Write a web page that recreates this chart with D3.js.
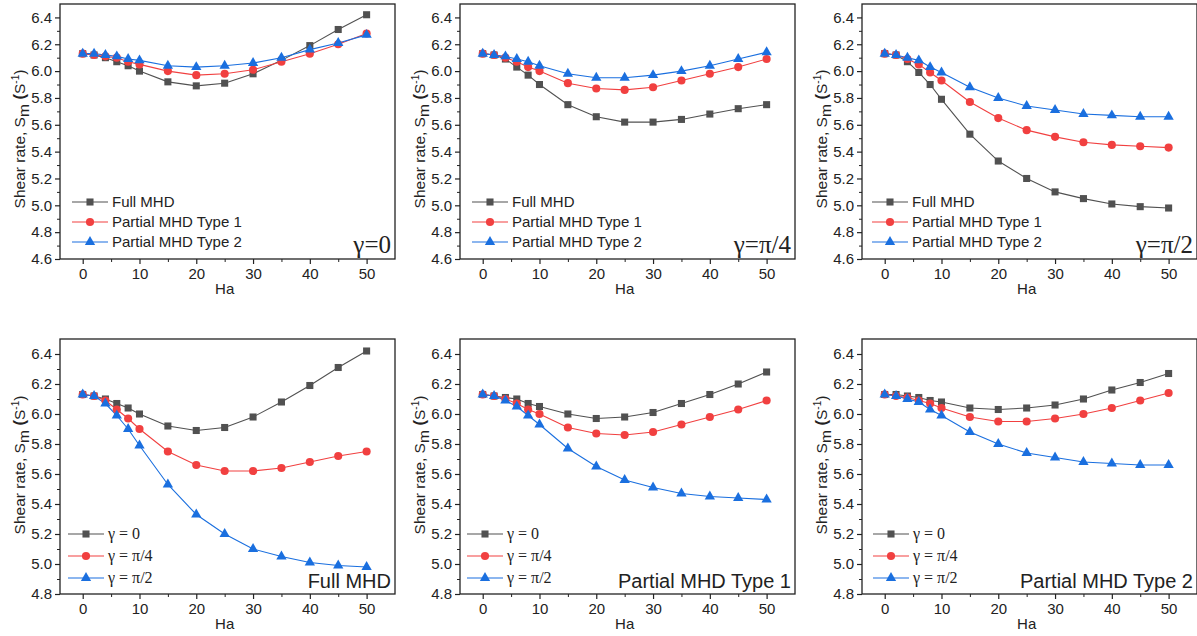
<!DOCTYPE html>
<html>
<head>
<meta charset="utf-8">
<script src="https://cdn.jsdelivr.net/npm/d3@7/dist/d3.min.js"></script>
<style>
  html, body { margin: 0; padding: 0; background: #fff; }
  svg { display: block; }
</style>
</head>
<body>
<svg id="chart" width="1197" height="636"></svg>
<script>
// Hartmann number values shared by every curve
const ha = [0, 2, 4, 6, 8, 10, 15, 20, 25, 30, 35, 40, 45, 50];

// Shear rate S_m for each model and inclination angle γ
const fullG0  = [6.13, 6.12, 6.10, 6.07, 6.04, 6.00, 5.92, 5.89, 5.91, 5.98, 6.08, 6.19, 6.31, 6.42];
const fullG4  = [6.13, 6.12, 6.09, 6.03, 5.97, 5.90, 5.75, 5.66, 5.62, 5.62, 5.64, 5.68, 5.72, 5.75];
const fullG2  = [6.13, 6.12, 6.07, 5.99, 5.90, 5.79, 5.53, 5.33, 5.20, 5.10, 5.05, 5.01, 4.99, 4.98];
const p1G0    = [6.13, 6.12, 6.11, 6.10, 6.07, 6.05, 6.00, 5.97, 5.98, 6.01, 6.07, 6.13, 6.20, 6.28];
const p1G4    = [6.13, 6.12, 6.10, 6.07, 6.03, 6.00, 5.91, 5.87, 5.86, 5.88, 5.93, 5.98, 6.03, 6.09];
const p1G2    = [6.13, 6.12, 6.09, 6.05, 5.99, 5.93, 5.77, 5.65, 5.56, 5.51, 5.47, 5.45, 5.44, 5.43];
const p2G0    = [6.13, 6.13, 6.12, 6.11, 6.09, 6.08, 6.04, 6.03, 6.04, 6.06, 6.10, 6.16, 6.21, 6.27];
const p2G4    = [6.13, 6.12, 6.11, 6.09, 6.07, 6.04, 5.98, 5.95, 5.95, 5.97, 6.00, 6.04, 6.09, 6.14];
const p2G2    = [6.13, 6.12, 6.10, 6.08, 6.03, 5.99, 5.88, 5.80, 5.74, 5.71, 5.68, 5.67, 5.66, 5.66];

// Legend names and panel captions
const modelNames = ["Full MHD", "Partial MHD Type 1", "Partial MHD Type 2"];
const angleNames = ["γ = 0", "γ = π/4", "γ = π/2"];
const angleTags  = ["γ=0", "γ=π/4", "γ=π/2"];

// Axis tick values
const xTicks = [0, 10, 20, 30, 40, 50];
const xMinor = [5, 15, 25, 35, 45];
const yTicksTop = [4.6, 4.8, 5.0, 5.2, 5.4, 5.6, 5.8, 6.0, 6.2, 6.4];
const yTicksBottom = [4.8, 5.0, 5.2, 5.4, 5.6, 5.8, 6.0, 6.2, 6.4];

const colors = ["#515151", "#F14040", "#1A6FDF"];
const symbols = [d3.symbolSquare, d3.symbolCircle, d3.symbolTriangle];
const symbolSizes = [50, 52, 46];

const panels = [
  { col: 0, row: 0, series: [fullG0, p1G0, p2G0], names: modelNames, serifNames: false, tag: angleTags[0], serifTag: true },
  { col: 1, row: 0, series: [fullG4, p1G4, p2G4], names: modelNames, serifNames: false, tag: angleTags[1], serifTag: true },
  { col: 2, row: 0, series: [fullG2, p1G2, p2G2], names: modelNames, serifNames: false, tag: angleTags[2], serifTag: true },
  { col: 0, row: 1, series: [fullG0, fullG4, fullG2], names: angleNames, serifNames: true, tag: "Full MHD", serifTag: false },
  { col: 1, row: 1, series: [p1G0, p1G4, p1G2], names: angleNames, serifNames: true, tag: "Partial MHD Type 1", serifTag: false },
  { col: 2, row: 1, series: [p2G0, p2G4, p2G2], names: angleNames, serifNames: true, tag: "Partial MHD Type 2", serifTag: false }
];

const colX = [0, 400, 802];
const rows = [
  { top: 4, bottom: 259, yDomain: [4.6, 6.5], yTicks: yTicksTop, titleY: 139, legendY: [202, 222, 242], legendLine: [12, 12, 10] },
  { top: 339, bottom: 594, yDomain: [4.8, 6.5], yTicks: yTicksBottom, titleY: 465, legendY: [534, 556, 578], legendLine: [8, 7, 11] }
];

const sans = "'Liberation Sans', Arial, sans-serif";
const serif = "'Liberation Serif', 'Times New Roman', serif";
const ink = "#222";

const svg = d3.select("#chart");

panels.forEach(p => {
  const r = rows[p.row];
  const left = colX[p.col] + 60;
  const right = colX[p.col] + 395;
  const x = d3.scaleLinear().domain([-4, 55]).range([left, right]);
  const y = d3.scaleLinear().domain(r.yDomain).range([r.bottom, r.top]);
  const g = svg.append("g");

  // minor ticks
  g.append("g")
    .attr("transform", `translate(0,${r.bottom})`)
    .call(d3.axisBottom(x).tickValues(xMinor).tickSize(3).tickFormat(""))
    .call(a => a.select(".domain").remove())
    .call(a => a.selectAll("line").attr("stroke", ink).attr("stroke-width", 1));
  const yMinor = d3.range(r.yDomain[0] + 0.1, 6.45, 0.2);
  g.append("g")
    .attr("transform", `translate(${left},0)`)
    .call(d3.axisLeft(y).tickValues(yMinor).tickSize(3).tickFormat(""))
    .call(a => a.select(".domain").remove())
    .call(a => a.selectAll("line").attr("stroke", ink).attr("stroke-width", 1));

  // major ticks and labels
  const xa = g.append("g")
    .attr("transform", `translate(0,${r.bottom})`)
    .call(d3.axisBottom(x).tickValues(xTicks).tickSize(5).tickPadding(4).tickFormat(d3.format("d")));
  xa.select(".domain").remove();
  xa.selectAll("line").attr("stroke", ink).attr("stroke-width", 1.2);
  xa.selectAll("text").attr("font-family", sans).attr("font-size", 15).attr("fill", ink);

  const ya = g.append("g")
    .attr("transform", `translate(${left},0)`)
    .call(d3.axisLeft(y).tickValues(r.yTicks).tickSize(5).tickPadding(3).tickFormat(d3.format(".1f")));
  ya.select(".domain").remove();
  ya.selectAll("line").attr("stroke", ink).attr("stroke-width", 1.2);
  ya.selectAll("text").attr("font-family", sans).attr("font-size", 15).attr("fill", ink);

  // frame
  g.append("rect")
    .attr("x", left).attr("y", r.top)
    .attr("width", right - left).attr("height", r.bottom - r.top)
    .attr("fill", "none").attr("stroke", ink).attr("stroke-width", 1.3);

  // axis titles
  g.append("text")
    .attr("x", (x(0) + x(50)) / 2).attr("y", r.bottom + 35)
    .attr("text-anchor", "middle")
    .attr("font-family", sans).attr("font-size", 15).attr("fill", ink)
    .text("Ha");

  const yt = g.append("text")
    .attr("transform", `translate(${colX[p.col] + 25},${r.titleY}) rotate(-90)`)
    .attr("text-anchor", "middle")
    .attr("font-family", sans).attr("font-size", 15.5).attr("fill", ink);
  yt.append("tspan").text("Shear rate, S");
  yt.append("tspan").attr("dy", 4).text("m");
  yt.append("tspan").attr("dy", -4).attr("font-weight", "bold").attr("font-size", 16.5).text(" (");
  yt.append("tspan").text("S");
  yt.append("tspan").attr("dy", -6).attr("font-size", 10).text("-1");
  yt.append("tspan").attr("dy", 6).text(")");

  // curves and markers
  const line = d3.line().x((d, i) => x(ha[i])).y(d => y(d));
  p.series.forEach((s, k) => {
    g.append("path")
      .datum(s)
      .attr("d", line)
      .attr("fill", "none")
      .attr("stroke", colors[k])
      .attr("stroke-width", 1.1);
  });
  p.series.forEach((s, k) => {
    g.selectAll(null)
      .data(s)
      .join("path")
      .attr("transform", (d, i) => `translate(${x(ha[i])},${y(d)})`)
      .attr("d", d3.symbol().type(symbols[k]).size(symbolSizes[k]))
      .attr("fill", colors[k]);
  });

  // legend
  const lx = left + r.legendLine[p.col];
  p.names.forEach((name, k) => {
    const ly = r.legendY[k];
    g.append("line")
      .attr("x1", lx).attr("x2", lx + 36)
      .attr("y1", ly).attr("y2", ly)
      .attr("stroke", colors[k]).attr("stroke-width", 1.1);
    g.append("path")
      .attr("transform", `translate(${lx + 18},${ly})`)
      .attr("d", d3.symbol().type(symbols[k]).size(symbolSizes[k]))
      .attr("fill", colors[k]);
    g.append("text")
      .attr("x", lx + 40).attr("y", ly + 5)
      .attr("font-family", p.serifNames ? serif : sans)
      .attr("font-size", p.serifNames ? 16 : 15)
      .attr("fill", ink)
      .text(name);
  });

  // panel caption
  g.append("text")
    .attr("x", right - 4).attr("y", r.bottom - 6)
    .attr("text-anchor", "end")
    .attr("font-family", p.serifTag ? serif : sans)
    .attr("font-size", p.serifTag ? 25 : 20)
    .attr("fill", ink)
    .text(p.tag);
});
</script>
</body>
</html>
